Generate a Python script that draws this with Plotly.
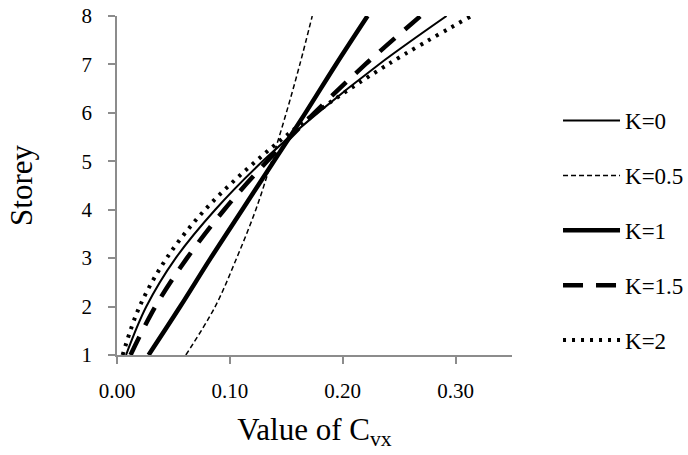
import plotly.graph_objects as go

storey = [1, 2, 3, 4, 5, 6, 7, 8]
k0 = [0.008, 0.026, 0.052, 0.087, 0.129, 0.178, 0.232, 0.292]
k05 = [0.061, 0.087, 0.106, 0.123, 0.137, 0.150, 0.162, 0.173]
k1 = [0.028, 0.056, 0.083, 0.111, 0.139, 0.167, 0.194, 0.222]
k15 = [0.012, 0.034, 0.062, 0.095, 0.133, 0.175, 0.220, 0.269]
k2 = [0.005, 0.020, 0.044, 0.078, 0.123, 0.176, 0.240, 0.314]

names = ["K=0", "K=0.5", "K=1", "K=1.5", "K=2"]
series = [k0, k05, k1, k15, k2]
styles = [
    dict(width=2, dash="solid"),
    dict(width=1.5, dash="5px,3px"),
    dict(width=4.5, dash="solid"),
    dict(width=4.5, dash="20px,13px"),
    dict(width=4, dash="3px,6px"),
]

FONT = "Liberation Serif, Times New Roman, serif"
fig = go.Figure()
for i, (n, s, st) in enumerate(zip(names, series, styles)):
    fig.add_trace(go.Scatter(
        x=s, y=storey, mode="lines", name=n, legendgroup=n,
        line=dict(color="black", shape="spline", smoothing=1, **st),
    ))

axis_common = dict(
    showline=True, linecolor="#8c8c8c", linewidth=1.5,
    ticks="outside", tickcolor="#8c8c8c", ticklen=7, tickwidth=1.5,
    showgrid=False, zeroline=False, mirror=False,
    tickfont=dict(family=FONT, size=21, color="black"),
)

fig.update_layout(
    width=688, height=455,
    margin=dict(l=117, r=176, t=16, b=100, autoexpand=False),
    paper_bgcolor="white", plot_bgcolor="white",
    font=dict(family=FONT, color="black"),
    xaxis=dict(range=[0, 0.35], tickvals=[0, 0.1, 0.2, 0.3], tickformat=".2f",
               title=dict(text="Value of C<sub>vx</sub>", font=dict(family=FONT, size=31), standoff=16),
               ticklabelstandoff=9, **axis_common),
    yaxis=dict(range=[1, 8], tickvals=storey,
               title=dict(text="Storey", font=dict(family=FONT, size=31), standoff=40),
               ticklabelstandoff=12, **axis_common),
    legend=dict(x=1.1165, y=0.755, xanchor="left", yanchor="top",
                font=dict(family=FONT, size=23, color="black"),
                itemwidth=57, tracegroupgap=22, bgcolor="rgba(0,0,0,0)"),
    showlegend=True,
)

fig.write_html("out.html")
